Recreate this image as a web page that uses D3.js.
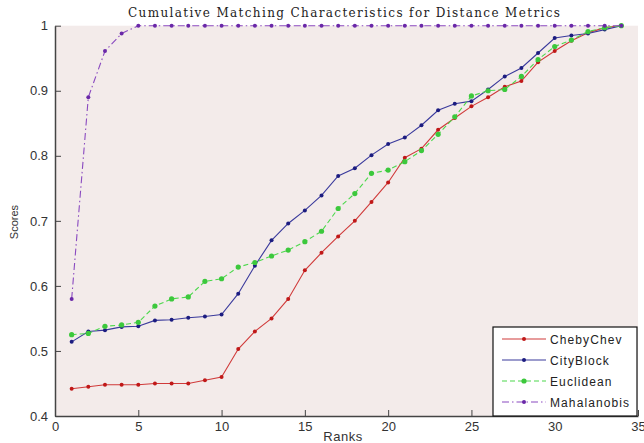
<!DOCTYPE html>
<html>
<head>
<meta charset="utf-8">
<script src="https://cdn.jsdelivr.net/npm/d3@7"></script>
<style>
  body { margin: 0; background: #fff; }
  svg { display: block; }
</style>
</head>
<body>
<div id="chart"></div>
<script>
const ranks = d3.range(1, 35);

const chebyChev = [0.442, 0.445, 0.448, 0.448, 0.448, 0.450, 0.450, 0.450, 0.455, 0.460,
  0.503, 0.530, 0.550, 0.580, 0.624, 0.651, 0.676, 0.700, 0.729, 0.759,
  0.797, 0.811, 0.840, 0.858, 0.876, 0.890, 0.906, 0.915, 0.944, 0.961,
  0.977, 0.989, 0.997, 1.0];

const cityBlock = [0.514, 0.530, 0.532, 0.537, 0.538, 0.547, 0.548, 0.551, 0.553, 0.556,
  0.588, 0.631, 0.670, 0.696, 0.716, 0.739, 0.769, 0.781, 0.801, 0.818,
  0.828, 0.847, 0.870, 0.880, 0.884, 0.902, 0.922, 0.935, 0.958, 0.981,
  0.985, 0.988, 0.994, 1.0];

const euclidean = [0.525, 0.527, 0.538, 0.540, 0.544, 0.569, 0.580, 0.583, 0.607, 0.611,
  0.629, 0.636, 0.646, 0.655, 0.668, 0.684, 0.719, 0.742, 0.773, 0.778,
  0.791, 0.808, 0.833, 0.860, 0.892, 0.900, 0.902, 0.922, 0.948, 0.968,
  0.978, 0.991, 0.997, 1.0];

const mahalanobis = [0.58, 0.89, 0.961, 0.988, 1, 1, 1, 1, 1, 1,
  1, 1, 1, 1, 1, 1, 1, 1, 1, 1,
  1, 1, 1, 1, 1, 1, 1, 1, 1, 1,
  1, 1, 1, 1];

const xTicks = [0, 5, 10, 15, 20, 25, 30, 35];
const yTicks = [0.4, 0.5, 0.6, 0.7, 0.8, 0.9, 1];

const series = [
  { name: "ChebyChev", values: chebyChev, line: "#d03a3a", dot: "#c01818", dash: null, r: 2 },
  { name: "CityBlock", values: cityBlock, line: "#3a3a9c", dot: "#1c1c80", dash: null, r: 2 },
  { name: "Euclidean", values: euclidean, line: "#4cd84c", dot: "#3cc83c", dash: "5,3", r: 2.6 },
  { name: "Mahalanobis", values: mahalanobis, line: "#8a4ac0", dot: "#6a28a8", dash: "7,3,1.5,3", r: 2 },
];

const sans = "'Liberation Sans', Arial, sans-serif";

const size = { width: 644, height: 443 };
const margin = { top: 25.7, left: 55, right: 6, bottom: 27 };

const svg = d3.select("#chart").append("svg")
  .attr("width", size.width)
  .attr("height", size.height);

const x = d3.scaleLinear()
  .domain([0, 35])
  .range([margin.left, size.width - margin.right]);

const y = d3.scaleLinear()
  .domain([0.4, 1])
  .range([size.height - margin.bottom, margin.top]);

// plot background
svg.append("rect")
  .attr("x", x(0))
  .attr("y", y(1))
  .attr("width", x(35) - x(0))
  .attr("height", y(0.4) - y(1))
  .attr("fill", "#f3ebea");

// axes
const xAxis = svg.append("g")
  .attr("transform", `translate(0, ${y(0.4)})`)
  .call(d3.axisBottom(x).tickValues(xTicks).tickSizeInner(-6).tickSizeOuter(0).tickPadding(4));

const yAxis = svg.append("g")
  .attr("transform", `translate(${x(0)}, 0)`)
  .call(d3.axisLeft(y).tickValues(yTicks).tickSizeInner(-6).tickSizeOuter(0).tickPadding(7)
    .tickFormat(d => d === 1 ? "1" : d3.format(".1f")(d)));

[xAxis, yAxis].forEach(g => {
  g.selectAll("text")
    .attr("fill", "#333")
    .style("font-family", sans)
    .style("font-size", "13px");
  g.selectAll("line").attr("stroke", "#444");
  g.select(".domain").attr("stroke", "#444").attr("stroke-width", 1.5);
});
xAxis.selectAll("text").attr("dy", "0.85em");

// lines
const line = d3.line()
  .x((d, i) => x(ranks[i]))
  .y(d => y(d));

series.forEach(s => {
  const g = svg.append("g");
  g.append("path")
    .attr("d", line(s.values))
    .attr("fill", "none")
    .attr("stroke", s.line)
    .attr("stroke-width", 1.1)
    .attr("stroke-dasharray", s.dash);
  g.selectAll("circle")
    .data(s.values)
    .enter()
    .append("circle")
    .attr("cx", (d, i) => x(ranks[i]))
    .attr("cy", d => y(d))
    .attr("r", s.r)
    .attr("fill", s.dot);
});

// title and axis labels
svg.append("text")
  .text("Cumulative Matching Characteristics for Distance Metrics")
  .attr("x", 344)
  .attr("y", 17)
  .attr("text-anchor", "middle")
  .attr("textLength", 432)
  .attr("lengthAdjust", "spacing")
  .style("font-family", "'DejaVu Serif', serif")
  .style("font-size", "12px")
  .attr("fill", "#222");

svg.append("text")
  .text("Ranks")
  .attr("x", 343)
  .attr("y", 441)
  .attr("text-anchor", "middle")
  .style("font-family", sans)
  .style("font-size", "13px")
  .style("letter-spacing", "0.5px")
  .attr("fill", "#333");

svg.append("text")
  .text("Scores")
  .attr("transform", "translate(18, 222) rotate(-90)")
  .attr("text-anchor", "middle")
  .style("font-family", sans)
  .style("font-size", "11px")
  .attr("fill", "#333");

// legend
const legend = svg.append("g");
legend.append("rect")
  .attr("x", 493)
  .attr("y", 327)
  .attr("width", 144)
  .attr("height", y(0.4) - 327)
  .attr("fill", "#fff")
  .attr("stroke", "#111")
  .attr("stroke-width", 1.2);

series.forEach((s, i) => {
  const ly = 339 + i * 21;
  legend.append("line")
    .attr("x1", 502)
    .attr("x2", 546)
    .attr("y1", ly)
    .attr("y2", ly)
    .attr("stroke", s.line)
    .attr("stroke-width", 1.1)
    .attr("stroke-dasharray", s.dash);
  legend.append("circle")
    .attr("cx", 524)
    .attr("cy", ly)
    .attr("r", s.r)
    .attr("fill", s.dot);
  legend.append("text")
    .text(s.name)
    .attr("x", 550)
    .attr("y", ly + 4.5)
    .style("font-family", sans)
    .style("font-size", "12px")
    .style("letter-spacing", "1.1px")
    .attr("fill", "#222");
});
</script>
</body>
</html>
